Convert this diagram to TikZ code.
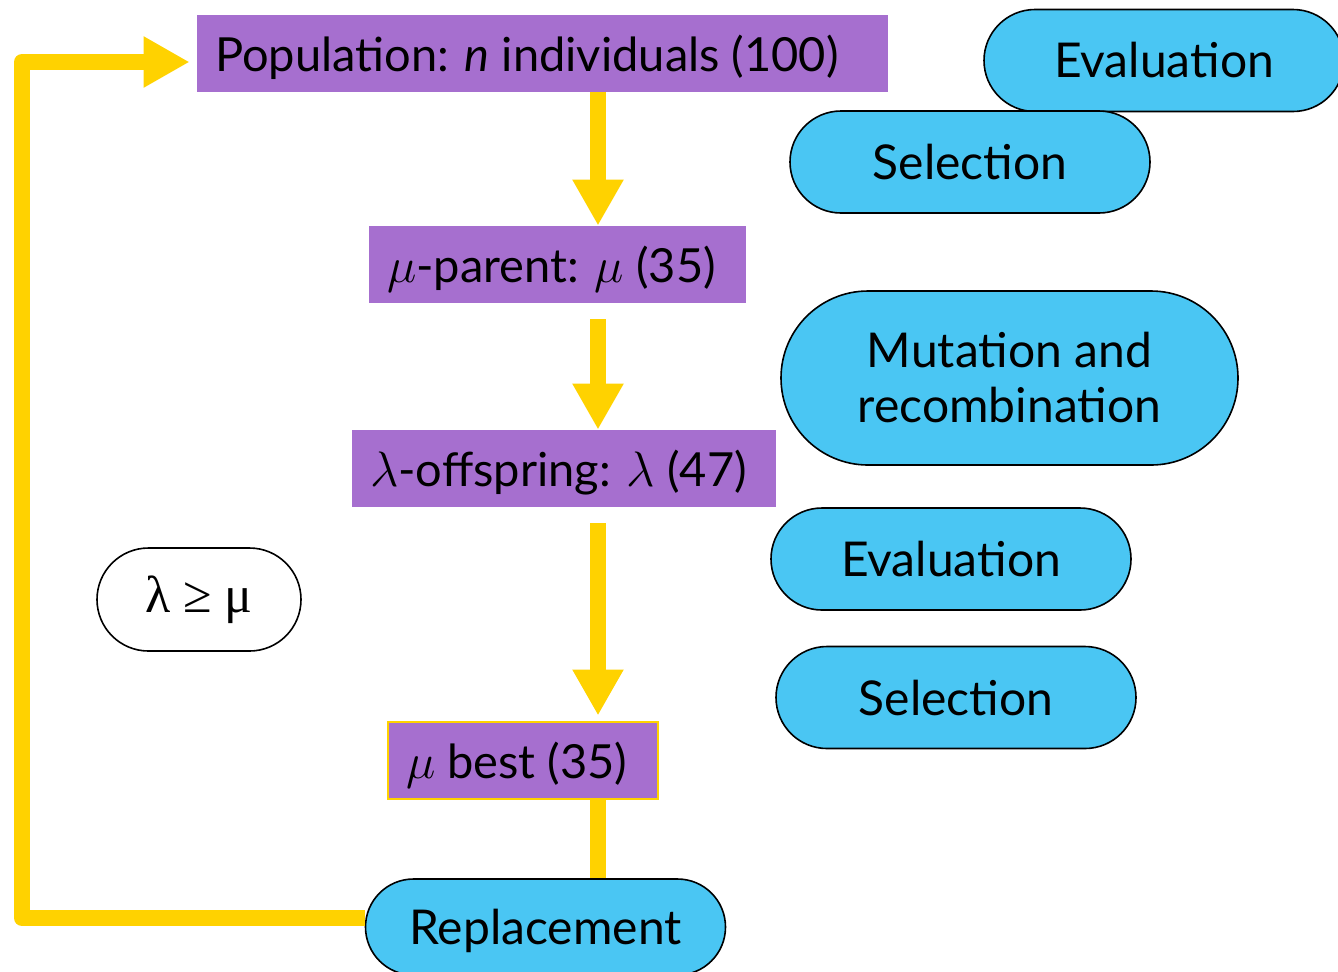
\documentclass[tikz,border=0pt]{standalone}
\usepackage{fontspec}
\setmainfont{Lato}
\newfontfamily\symfont{Liberation Serif}
\usetikzlibrary{positioning,arrows.meta,shapes.misc}
\definecolor{eapurple}{HTML}{A66FCF}
\definecolor{eablue}{HTML}{4AC6F3}
\definecolor{eayellow}{HTML}{FFD200}
\tikzset{
  pool/.style ={rectangle, fill=eapurple, inner xsep=9pt, inner ysep=0pt, text depth=0pt,
                minimum height=38.5pt, align=flush left, font=\fontsize{23.5}{27}\selectfont},
  oper/.style ={rounded rectangle, fill=eablue, draw=black, line width=0.8pt,
                inner sep=0pt, minimum width=180pt, minimum height=51pt,
                align=center, font=\fontsize{24}{27.5}\selectfont},
  cond/.style ={rounded rectangle, fill=white, draw=black, line width=0.8pt,
                inner sep=0pt, minimum width=102pt, minimum height=51.5pt,
                font=\symfont\fontsize{26}{30}\selectfont},
  flow/.style ={-{Triangle[length=23pt,width=24pt]}, draw=eayellow, line width=8pt},
  link/.style ={draw=eayellow, line width=8pt},
}

\begin{document}
\begin{tikzpicture}[x=0.5pt,y=-0.5pt]
  \useasboundingbox (0,0) rectangle (1338,971);
  % populations
  \node[pool, text width=327.5pt] (pop)    at (542.5,53)  {Population: \textit{n} individuals (100)};
  \node[pool, text width=170.5pt] (parent) at (557.5,264.5) {$\mu$-parent: $\mu$ (35)};
  \node[pool, text width=194pt]   (offspr) at (564,468.5) {$\lambda$-offspring: $\lambda$ (47)};
  \node[pool, text width=117pt, draw=eayellow, line width=1pt] (best) at (523,760) {$\mu$ best (35)};
  % operators
  \node[oper] (eval1) at (1164,60.5) {Evaluation};
  \node[oper] (sel1)  at (970,162)   {Selection};
  \node[oper, minimum width=228.5pt, minimum height=87pt] (mut) at (1009.5,378) {Mutation and\\recombination};
  \node[oper] (eval2) at (951,559)   {Evaluation};
  \node[oper] (sel2)  at (956,697.5) {Selection};
  \node[oper, minimum height=48pt, text depth=0pt] (repl) at (545.5,927) {Replacement};
  \node[cond] (rule) at (199,599.5) {λ ≥ μ};
  % flow
  \coordinate (axis) at (598,0);
  \coordinate (back) at (22,0);
  \coordinate (entry) at ([xshift=-3.5pt,yshift=-4.5pt]pop.west);
  \draw[flow] (pop.south -| axis) -- (parent.north -| axis);
  \draw[flow, shorten <=8pt] (parent.south -| axis) -- (offspr.north -| axis);
  \draw[flow, shorten <=8pt, shorten >=2.5pt] (offspr.south -| axis) -- (best.north -| axis);
  \draw[link] (best.south -| axis) -- (repl.north -| axis);
  \draw[flow, line join=round] ([yshift=4.5pt]repl.west) -| (back |- entry) -- (entry);
\end{tikzpicture}
\end{document}
